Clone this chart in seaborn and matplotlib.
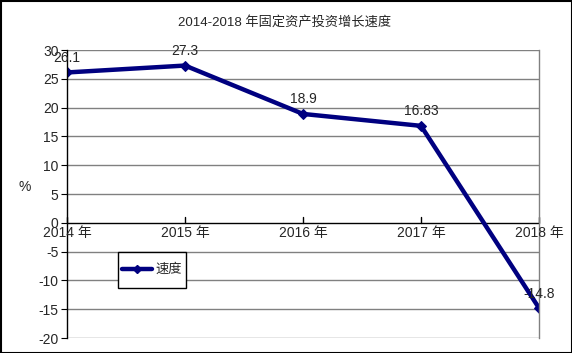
import matplotlib
matplotlib.use("Agg")
import matplotlib.pyplot as plt
import seaborn as sns
import pandas as pd
from matplotlib.lines import Line2D
from matplotlib.patches import Rectangle

years = ["2014 年", "2015 年", "2016 年", "2017 年", "2018 年"]
speed = [26.1, 27.3, 18.9, 16.83, -14.8]
labels = ["26.1", "27.3", "18.9", "16.83", "-14.8"]
yticks = [-20, -15, -10, -5, 0, 5, 10, 15, 20, 25, 30]

sns.set_style("white")
plt.rcParams['font.family'] = ['Liberation Sans', 'Noto Sans CJK SC', 'DejaVu Sans']

df = pd.DataFrame({"x": range(len(years)), "速度": speed})

fig = plt.figure(figsize=(5.72, 3.53), dpi=100)
ax = fig.add_axes([67/572, 15/353, 472/572, 288/353])
navy = "#000080"
sns.lineplot(data=df, x="x", y="速度", ax=ax, color=navy, linewidth=3.2,
             marker="D", markersize=5.5, markeredgecolor=navy, legend=False)

ax.set_xlim(0, 4)
ax.set_ylim(-20, 30)
ax.set_yticks(yticks)
ax.set_yticklabels([str(t) for t in yticks], fontsize=10)
for t in yticks:
    if t != 0:
        ax.axhline(t, color="#808080", linewidth=1, zorder=0)
ax.axhline(0, color="black", linewidth=1, zorder=1)
ax.set_xticks([])
for i, yl in enumerate(years):
    ax.text(i, -0.6, yl, ha="center", va="top", fontsize=10)
    ax.plot([i, i], [0, 1.0], color="black", linewidth=1, clip_on=False)

for s in ["top", "bottom"]:
    ax.spines[s].set_visible(False)
ax.spines["left"].set_color("black")
ax.spines["left"].set_linewidth(1)
ax.spines["right"].set_color("#808080")
ax.spines["right"].set_linewidth(1)
ax.tick_params(axis="y", length=4, color="black", pad=2, direction="out", left=True)

for i, (v, lab) in enumerate(zip(speed, labels)):
    ax.text(i, v + 1.3, lab, ha="center", va="bottom", fontsize=10)

ax.set_xlabel("")
ax.set_ylabel("%", rotation=0, fontsize=10)
ax.yaxis.set_label_coords(-42/472, 0.5)

fig.suptitle("2014-2018 年固定资产投资增长速度", x=285/572, y=1 - 22/353,
             va="center", fontsize=9.5)

# legend box
fig.patches.append(Rectangle((118/572, 1 - 288/353), 68/572, 36/353, transform=fig.transFigure,
                             fill=True, facecolor="white", edgecolor="black", linewidth=1, zorder=5))
handle = Line2D([0], [0], color=navy, linewidth=3.2, marker="D", markersize=4.5)
leg = fig.legend([handle], ["速度"], loc="center",
                 bbox_to_anchor=(152/572, 1 - 270/353),
                 frameon=False, fontsize=9.5,
                 handlelength=2.3, handletextpad=0.25, borderpad=0, borderaxespad=0)
leg.set_zorder(6)

fig.patches.append(Rectangle((0.5/572, 0.5/353), 1 - 1/572, 1 - 1/353, transform=fig.transFigure,
                             fill=False, edgecolor="black", linewidth=1.5))

fig.savefig("out.png", dpi=100, facecolor="white")
